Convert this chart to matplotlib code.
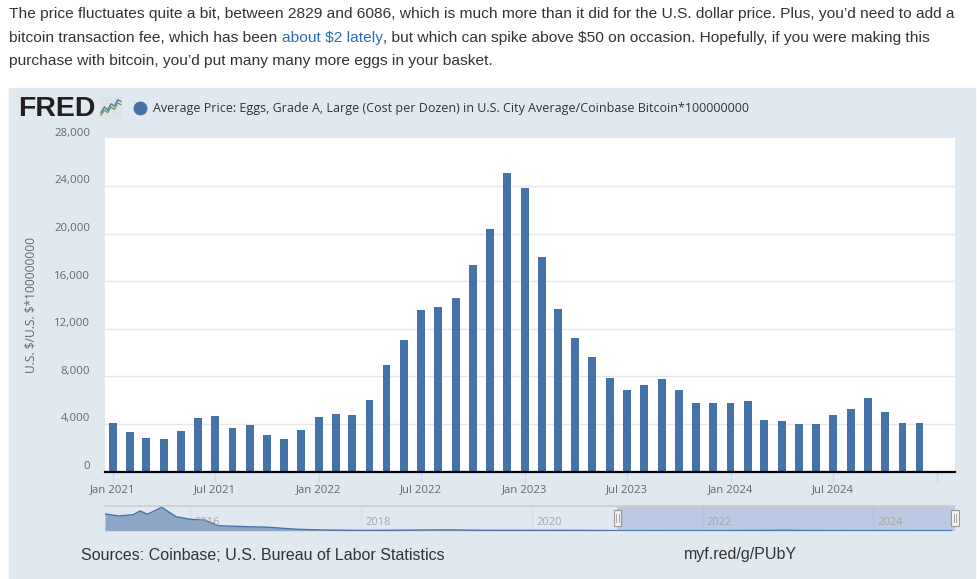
import matplotlib
matplotlib.use("Agg")
import matplotlib.pyplot as plt
from matplotlib.patches import Rectangle
from matplotlib.lines import Line2D
from matplotlib.text import Annotation
import matplotlib.transforms as mtransforms
import matplotlib.dates as mdates
from datetime import datetime

# ---------------- data ----------------
months = [datetime(y, m, 1) for y in range(2021, 2025) for m in range(1, 13)]
egg_btc = [4080, 3320, 2820, 2750, 3420, 4520, 4680, 3680, 3930, 3090, 2750, 3510,
           4600, 4850, 4770, 6030, 8980, 11080, 13600, 13860, 14610, 17390, 20340, 25050,
           23790, 18060, 13690, 11250, 9650, 7880, 6870, 7290, 7800, 6870, 5780, 5780,
           5780, 5950, 4350, 4260, 4010, 4010, 4770, 5270, 6200, 5020, 4100, 4100]

y_ticks = [0, 4000, 8000, 12000, 16000, 20000, 24000, 28000]
y_tick_labels = ["0", "4,000", "8,000", "12,000", "16,000", "20,000", "24,000", "28,000"]
x_ticks = [datetime(2021, 1, 1), datetime(2021, 7, 1), datetime(2022, 1, 1), datetime(2022, 7, 1),
           datetime(2023, 1, 1), datetime(2023, 7, 1), datetime(2024, 1, 1), datetime(2024, 7, 1),
           datetime(2025, 1, 1)]
x_tick_labels = ["Jan 2021", "Jul 2021", "Jan 2022", "Jul 2022", "Jan 2023", "Jul 2023",
                 "Jan 2024", "Jul 2024", ""]

# navigator (full history, 2015-2020 part)
nav_early_dates = [datetime(2015, 1, 1), datetime(2015, 3, 1), datetime(2015, 5, 1), datetime(2015, 6, 1),
                   datetime(2015, 7, 1), datetime(2015, 9, 1), datetime(2015, 11, 1), datetime(2016, 1, 1),
                   datetime(2016, 3, 1), datetime(2016, 5, 1), datetime(2016, 9, 1), datetime(2016, 12, 1),
                   datetime(2017, 4, 1), datetime(2017, 8, 1), datetime(2018, 1, 1), datetime(2018, 6, 1),
                   datetime(2019, 1, 1), datetime(2019, 6, 1), datetime(2020, 1, 1), datetime(2020, 6, 1),
                   datetime(2020, 12, 1)]
nav_early_values = [880000, 774000, 842000, 1040000, 862000, 1230000, 737000, 600000,
                    563000, 263000, 210000, 180000, 74000, 37000, 12000, 25000,
                    45000, 20000, 17000, 18000, 7000]
nav_years = [2016, 2018, 2020, 2022, 2024]

top_line1 = ("The price fluctuates quite a bit, between 2829 and 6086, which is much more than it did "
             "for the U.S. dollar price. Plus, you\u2019d need to add a")
top_line2a = "bitcoin transaction fee, which has been"
top_line2_link = "about \\$2 lately"
top_line2b = ", but which can spike above \\$50 on occasion. Hopefully, if you were making this"
top_line3 = "purchase with bitcoin, you\u2019d put many many more eggs in your basket."
legend_text = ("Average Price: Eggs, Grade A, Large (Cost per Dozen) in U.S. City Average/"
               "Coinbase Bitcoin*100000000")
y_label = "U.S. \\$/U.S. \\$*100000000"
source_text = "Sources: Coinbase; U.S. Bureau of Labor Statistics"
short_url = "myf.red/g/PUbY"

logo_x = [0, 1, 2, 3, 4, 5, 6]
logo_green = [1.0, 2.2, 1.6, 3.0, 2.4, 4.0, 3.6]
logo_blue = [1.6, 3.0, 2.2, 3.8, 3.2, 4.8, 4.4]

# ---------------- layout helpers ----------------
W, H = 977, 579
fig = plt.figure(figsize=(W / 100, H / 100), dpi=100)
fig.patch.set_facecolor("white")


def fx(px):
    return px / W


def fy(py):
    return 1 - py / H


BAR = "#4572a7"
GRAY = "#666666"
TXT = "#333333"
SANS = ["Liberation Sans", "DejaVu Sans"]
OPEN = ["Open Sans", "DejaVu Sans"]

# panel background
fig.patches.append(Rectangle((fx(9), fy(578)), fx(975) - fx(9), (578 - 88) / H,
                             transform=fig.transFigure, color="#e1e9f0", zorder=-5))

# ---------------- top paragraph ----------------
TS = 11.15
fig.text(fx(9), fy(14), top_line1, va="center", ha="left", family=SANS, size=TS, color=TXT)
t2 = fig.text(fx(9), fy(38), top_line2a, va="center", ha="left", family=SANS, size=TS, color=TXT)
ann1 = Annotation(top_line2_link, xy=(1, 0), xycoords=t2, xytext=(3.1, 0), textcoords="offset points",
                  va="bottom", ha="left", family=SANS, size=TS, color="#2a6ebb", annotation_clip=False)
fig.add_artist(ann1)
ann2 = Annotation(top_line2b, xy=(1, 0), xycoords=ann1, xytext=(0, 0), textcoords="offset points",
                  va="bottom", ha="left", family=SANS, size=TS, color=TXT, annotation_clip=False)
fig.add_artist(ann2)
fig.text(fx(9), fy(61), top_line3, va="center", ha="left", family=SANS, size=TS, color=TXT)

# ---------------- FRED header ----------------
fig.text(fx(18), fy(108.5), "FRED", va="center", ha="left", family=SANS,
         weight="heavy", size=20.5, color="#231f20")
lax = fig.add_axes([fx(100), fy(119), 22 / W, 22 / H])
lax.set_facecolor("#dfe3e6")
lax.plot(logo_x, logo_green, color="#6aa84f", lw=1.0)
lax.plot(logo_x, logo_blue, color="#4a78b8", lw=1.0)
lax.set_xlim(-0.3, 6.3)
lax.set_ylim(0, 5.5)
lax.set_xticks([])
lax.set_yticks([])
for s in lax.spines.values():
    s.set_visible(False)

fig.add_artist(Line2D([fx(140)], [fy(108)], marker="o", markersize=9, color=BAR,
                      transform=fig.transFigure))
fig.text(fx(153), fy(108.5), legend_text, va="center", ha="left", family=OPEN, size=9.0, color=TXT)

# ---------------- main chart ----------------
ax = fig.add_axes([fx(105), fy(471.5), (955 - 105) / W, (471.5 - 138.3) / H])
ax.set_facecolor("white")
ax.bar(months, egg_btc, width=14, color=BAR, zorder=3)
ax.set_xlim(datetime(2020, 12, 18), datetime(2025, 2, 2))
ax.set_ylim(y_ticks[0], y_ticks[-1])
for yv in y_ticks[1:-1]:
    ax.axhline(yv, color="#e6e6e6", lw=1, zorder=1)
ax.set_yticks([])
lab_tr = mtransforms.blended_transform_factory(ax.transAxes, ax.transData) + \
    mtransforms.ScaledTranslation(-15 / 100, 5 / 100, fig.dpi_scale_trans)
for yv, lab in zip(y_ticks, y_tick_labels):
    ax.text(0, yv, lab, transform=lab_tr, ha="right", va="center",
            family=OPEN, size=8.2, color=GRAY, clip_on=False)

ax.set_xticks(x_ticks)
ax.set_xticklabels(x_tick_labels, family=OPEN, size=8.2, color=GRAY)
ax.tick_params(axis="x", length=7, width=1, color="#ccd6eb", pad=2)
for k in ["left", "right", "top"]:
    ax.spines[k].set_visible(False)
ax.spines["bottom"].set_color("black")
ax.spines["bottom"].set_linewidth(1.6)
ax.spines["bottom"].set_zorder(4)

fig.text(fx(31), fy(305), y_label, rotation=90, va="center", ha="center",
         family=OPEN, size=8.6, color=GRAY)

# ---------------- navigator ----------------
nav = fig.add_axes([fx(105), fy(530.7), (955 - 105) / W, (530.7 - 506) / H])
nav.set_facecolor("none")
nav_dates = nav_early_dates + months
nav_vals = nav_early_values + egg_btc
nav.set_xlim(datetime(2015, 1, 1), datetime(2024, 12, 15))
nav.set_ylim(0, 1300000)
for yr in nav_years:
    nav.axvline(datetime(yr, 1, 1), color="#d6dee6", lw=1, zorder=0)
    nav.annotate(str(yr), xy=(datetime(yr, 1, 1), 0.5), xycoords=("data", "axes fraction"),
                 xytext=(3, -3), textcoords="offset points", ha="left", va="center",
                 family=OPEN, size=8, color="#a6a6a6", zorder=4)
nav.fill_between(nav_dates, nav_vals, color="#8ea6c8", lw=0, zorder=1)
nav.plot(nav_dates, nav_vals, color=BAR, lw=1, zorder=2)
nav.axvspan(datetime(2021, 1, 1), datetime(2024, 12, 15), color=(102 / 255, 133 / 255, 194 / 255),
            alpha=0.3, lw=0, zorder=3)
nav.plot([0, 1], [1, 1], transform=nav.transAxes, color="#cccccc", lw=1.2, clip_on=False, zorder=4)
nav.set_xticks([])
nav.set_yticks([])
for s in nav.spines.values():
    s.set_visible(False)
htr = mtransforms.blended_transform_factory(nav.transData, nav.transAxes)
for hd in [datetime(2021, 1, 1), datetime(2024, 12, 15)]:
    hx = mdates.date2num(hd)
    r = Rectangle((hx - 16, 0.2), 32, 0.62, transform=htr, facecolor="#f2f2f2",
                  edgecolor="#999999", lw=0.8, clip_on=False, zorder=5)
    nav.add_patch(r)
    for dx in (-5, 5):
        nav.plot([hx + dx, hx + dx], [0.35, 0.67], transform=htr, color="#999999", lw=0.6,
                 clip_on=False, zorder=6)

# ---------------- footer ----------------
ffont = dict(family=SANS, size=11.5, color=TXT)
fig.text(fx(81), fy(555), source_text, va="center", ha="left", **ffont)
fig.text(fx(684), fy(555), short_url, va="center", ha="left", **ffont)

fig.savefig("out.png", dpi=100)
